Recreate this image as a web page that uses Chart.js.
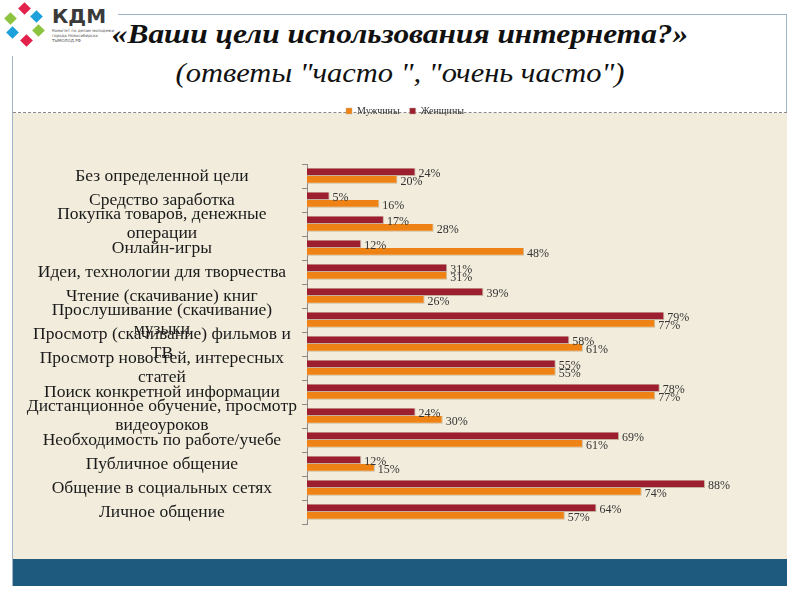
<!DOCTYPE html>
<html lang="ru">
<head>
<meta charset="utf-8">
<script src="https://cdn.jsdelivr.net/npm/chart.js@4/dist/chart.umd.min.js"></script>
<style>
  html, body { margin: 0; padding: 0; background: #fff; }
  #slide { position: relative; width: 800px; height: 600px; overflow: hidden; font-family: 'Liberation Serif', serif; }
  .frame { position: absolute; left: 12px; top: 14px; width: 775px; height: 572px; border: 1px solid #9fb4c7; box-sizing: border-box; }
  .beige { position: absolute; left: 13px; top: 113px; width: 774px; height: 446px; background: #f1ecdc; }
  .band { position: absolute; left: 13px; top: 559px; width: 774px; height: 27px; background: #1d5a7d; }
  .dash { position: absolute; left: 13px; top: 112px; width: 774px; border-top: 1px dashed #8a8a8a; }
  .t1, .t2 { position: absolute; left: 0; width: 800px; text-align: center; color: #111; white-space: nowrap; }
  .t1 { top: 18px; font: italic bold 28px 'Liberation Serif', serif; transform: scaleX(1.12); }
  .t2 { top: 58px; font: italic 27px 'Liberation Serif', serif; transform: scaleX(1.13); }
  .logo { position: absolute; left: 0; top: 0; width: 70px; height: 56px; background: #fff; }
  .logo i { position: absolute; width: 9px; height: 9px; transform: rotate(45deg); }
  .kdm { position: absolute; left: 52px; top: 4px; font: bold 20px 'DejaVu Sans', sans-serif; color: #3a3a3a; background: #fff; padding-right: 4px; }
  .kdm small { display: block; font: 4px 'DejaVu Sans', sans-serif; line-height: 5px; color: #555; }
  #wrap { position: absolute; left: 0; top: 96px; width: 800px; height: 464px; }
</style>
</head>
<body>
<div id="slide">
  <div class="frame"></div>
  <div class="beige"></div>
  <div class="band"></div>
  <div class="dash"></div>
  <div class="logo">
    <i style="left:20px;top:4px;background:#e3224c"></i>
    <i style="left:32px;top:12px;background:#1da1db"></i>
    <i style="left:34px;top:26px;background:#8cc43f"></i>
    <i style="left:22px;top:36px;background:#e3224c"></i>
    <i style="left:8px;top:28px;background:#1da1db"></i>
    <i style="left:6px;top:14px;background:#8cc43f"></i>
  </div>
  <div class="kdm">КДМ<small>Комитет по делам молодежи<br>города Новосибирска<br>ТЫМОЛОД.РФ</small></div>
  <div class="t1">«Ваши цели использования интернета?»</div>
  <div class="t2">(ответы "часто ", "очень часто")</div>
  <div id="wrap"><canvas id="c"></canvas></div>
</div>
<script>
  // категории сверху вниз, значения в процентах
  const categories = [
    'Без определенной цели',
    'Средство заработка',
    ['Покупка товаров, денежные', 'операции'],
    'Онлайн-игры',
    'Идеи, технологии для творчества',
    'Чтение (скачивание) книг',
    ['Прослушивание (скачивание)', 'музыки'],
    ['Просмотр (скачивание) фильмов и', 'ТВ'],
    ['Просмотр новостей, интересных', 'статей'],
    'Поиск конкретной информации',
    ['Дистанционное обучение, просмотр', 'видеоуроков'],
    'Необходимость по работе/учебе',
    'Публичное общение',
    'Общение в социальных сетях',
    'Личное общение',
  ];
  const men   = [20, 16, 28, 48, 31, 26, 77, 61, 55, 77, 30, 61, 15, 74, 57];
  const women = [24,  5, 17, 12, 31, 39, 79, 58, 55, 78, 24, 69, 12, 88, 64];

  const RED = '#9c1f30', ORANGE = '#ee8214';

  // подписи значений справа от каждой полосы
  const valueLabels = {
    id: 'valueLabels',
    afterDatasetsDraw(chart) {
      const ctx = chart.ctx;
      ctx.save();
      ctx.font = '12px "Liberation Serif", serif';
      ctx.fillStyle = '#333';
      ctx.textAlign = 'left';
      ctx.textBaseline = 'middle';
      chart.data.datasets.forEach((ds, di) => {
        chart.getDatasetMeta(di).data.forEach((bar, i) => {
          ctx.fillText(ds.data[i] + '%', bar.x + 3, bar.y + 2);
        });
      });
      ctx.restore();
    },
  };

  new Chart(document.getElementById('c'), {
    type: 'bar',
    data: {
      labels: categories,
      datasets: [
        { label: 'Женщины', data: women, backgroundColor: RED, borderColor: 'rgba(190,170,150,0.9)', borderWidth: { top: 0, left: 0, right: 1, bottom: 1 }, borderSkipped: false },
        { label: 'Мужчины', data: men, backgroundColor: ORANGE, borderColor: 'rgba(200,180,150,0.9)', borderWidth: { top: 0, left: 0, right: 1, bottom: 1 }, borderSkipped: false },
      ],
    },
    options: {
      indexAxis: 'y',
      responsive: true, maintainAspectRatio: false, animation: false,
      categoryPercentage: 0.64, barPercentage: 1,
      layout: { padding: { left: 10, right: 0, top: 0, bottom: 36 } },
      plugins: {
        legend: {
          reverse: true,
          labels: { color: '#333', boxWidth: 6, boxHeight: 6, padding: 10, font: { size: 10, family: 'Liberation Serif' } },
        },
        tooltip: { enabled: false },
      },
      scales: {
        x: {
          position: 'top', min: 0, max: 109,
          ticks: { display: false }, grid: { display: false }, border: { display: false },
          afterFit: (s) => { s.height = 38; },
        },
        y: {
          afterFit: (s) => { s.width = 297; },
          grid: { drawOnChartArea: false, drawTicks: true, tickLength: 5, color: '#8a8a8a' },
          border: { display: true, color: '#8a8a8a' },
          ticks: { color: '#1a1a1a', autoSkip: false, crossAlign: 'center', padding: 5, font: { size: 17.5, family: 'Liberation Serif', lineHeight: 1.08 } },
        },
      },
    },
    plugins: [valueLabels],
  });
</script>
</body>
</html>
